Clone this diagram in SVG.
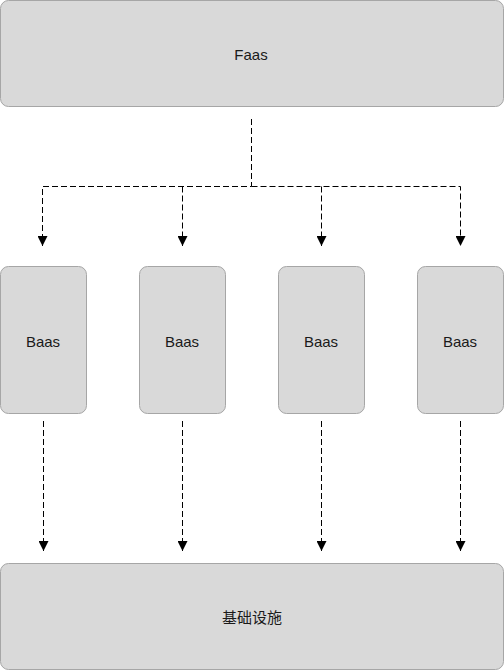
<svg xmlns="http://www.w3.org/2000/svg" width="504" height="670" viewBox="0 0 504 670">
<style>
.box{fill:#d9d9d9;stroke:#a6a6a6;stroke-width:1}
.lbl{font-family:"Liberation Sans","Noto Sans CJK SC",Arial,sans-serif;font-size:15px;fill:#1a1a1a;text-anchor:middle;dominant-baseline:central}
.con{fill:none;stroke:#000;stroke-width:1;stroke-dasharray:6 3}
</style>
<defs>
<marker id="arr" markerWidth="10" markerHeight="10" viewBox="0 0 10 10" refX="10" refY="5" orient="auto" markerUnits="userSpaceOnUse">
<path d="M0,0 L10,5 L0,10 Z" fill="#000"/>
</marker>
</defs>
<g id="faas"><rect class="box" x="0.5" y="0.5" width="503" height="106" rx="8"/><text class="lbl" x="251" y="54">Faas</text></g>
<g id="baas1"><rect class="box" x="0.5" y="266.5" width="86" height="147" rx="8"/><text class="lbl" x="43" y="341">Baas</text></g>
<g id="baas2"><rect class="box" x="139.5" y="266.5" width="86" height="147" rx="8"/><text class="lbl" x="182" y="341">Baas</text></g>
<g id="baas3"><rect class="box" x="278.5" y="266.5" width="86" height="147" rx="8"/><text class="lbl" x="321" y="341">Baas</text></g>
<g id="baas4"><rect class="box" x="417.5" y="266.5" width="86" height="147" rx="8"/><text class="lbl" x="460" y="341">Baas</text></g>
<g id="infra"><rect class="box" x="0.5" y="563.5" width="503" height="106" rx="8"/><text class="lbl" x="252" y="617">基础设施</text></g>
<g id="connectors">
<path class="con" d="M251.5,119 V186.5 H42.5 V246" marker-end="url(#arr)"/>
<path class="con" d="M182.5,186.5 V246" marker-end="url(#arr)"/>
<path class="con" d="M321.5,186.5 V246" marker-end="url(#arr)"/>
<path class="con" d="M251.5,186.5 H460.5 V246" marker-end="url(#arr)"/>
<path class="con" d="M43.5,421 V551" marker-end="url(#arr)"/>
<path class="con" d="M182.5,421 V551" marker-end="url(#arr)"/>
<path class="con" d="M321.5,421 V551" marker-end="url(#arr)"/>
<path class="con" d="M460.5,421 V551" marker-end="url(#arr)"/>
</g>
</svg>
